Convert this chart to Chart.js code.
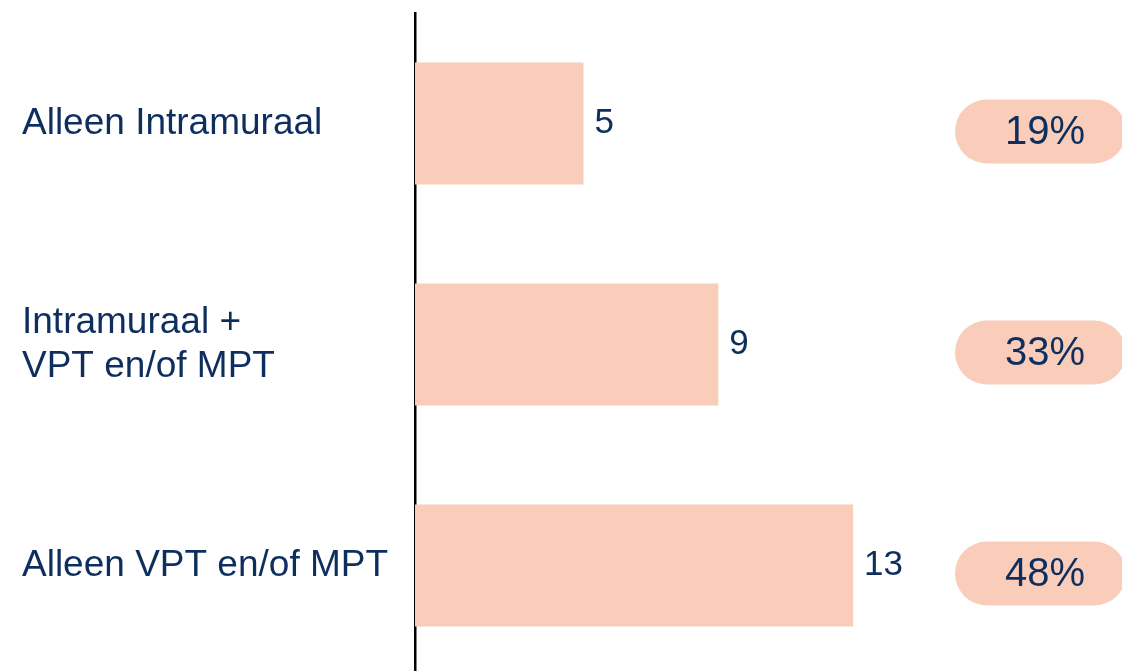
<!DOCTYPE html>
<html>
<head>
<meta charset="utf-8">
<script src="https://cdn.jsdelivr.net/npm/chart.js@4/dist/chart.umd.min.js"></script>
<style>
  html, body { margin: 0; padding: 0; background: #ffffff; overflow: hidden; }
  #wrap { position: relative; width: 1122px; height: 680px; }
</style>
</head>
<body>
<div id="wrap"><canvas id="c"></canvas></div>
<script>
const categories = [
  'Alleen Intramuraal',
  ['Intramuraal +', 'VPT en/of MPT'],
  'Alleen VPT en/of MPT'
];
const counts = [5, 9, 13];
const shares = ['19%', '33%', '48%'];

const BAR = '#F9CDBA';
const NAVY = '#0E2F5E';
const FONT = '"Liberation Sans", Arial, sans-serif';

const valueLabels = {
  id: 'valueLabels',
  afterDatasetsDraw(chart) {
    const ctx = chart.ctx;
    const meta = chart.getDatasetMeta(0);
    ctx.save();
    ctx.fillStyle = NAVY;
    ctx.font = '35px ' + FONT;
    ctx.textAlign = 'left';
    ctx.textBaseline = 'middle';
    meta.data.forEach((bar, i) => {
      ctx.fillText(String(counts[i]), bar.x + 11, bar.y);
    });
    ctx.restore();
  }
};

const sharePills = {
  id: 'sharePills',
  afterDatasetsDraw(chart) {
    const ctx = chart.ctx;
    const yScale = chart.scales.y;
    ctx.save();
    shares.forEach((txt, i) => {
      const cy = yScale.getPixelForValue(i) + 8;
      const x0 = 955, x1 = 1126, h = 64, r = 32;
      ctx.fillStyle = BAR;
      ctx.beginPath();
      ctx.roundRect(x0, cy - h / 2, x1 - x0, h, r);
      ctx.fill();
      ctx.fillStyle = NAVY;
      ctx.font = '40px ' + FONT;
      ctx.textAlign = 'center';
      ctx.textBaseline = 'middle';
      ctx.fillText(txt, 1045, cy + 1);
    });
    ctx.restore();
  }
};

new Chart(document.getElementById('c'), {
  type: 'bar',
  data: {
    labels: categories,
    datasets: [{
      data: counts,
      backgroundColor: BAR,
      borderWidth: 0,
      barPercentage: 0.553,
      categoryPercentage: 1.0
    }]
  },
  options: {
    indexAxis: 'y',
    responsive: true,
    maintainAspectRatio: false,
    animation: false,
    layout: { padding: { left: 22, right: 33, top: 13, bottom: 4 } },
    plugins: {
      legend: { display: false },
      tooltip: { enabled: false }
    },
    scales: {
      x: {
        display: false,
        min: 0,
        max: 20
      },
      y: {
        z: 1,
        grid: { display: false },
        border: { display: true, color: '#000000', width: 2.5 },
        ticks: {
          color: NAVY,
          font: { family: FONT, size: 37, lineHeight: 1.2 },
          crossAlign: 'far',
          padding: 0
        },
        afterFit(scale) {
          scale.width = 393;
          scale.paddingTop = 0;
          scale.paddingBottom = 0;
        }
      }
    }
  },
  plugins: [valueLabels, sharePills]
});
</script>
</body>
</html>
